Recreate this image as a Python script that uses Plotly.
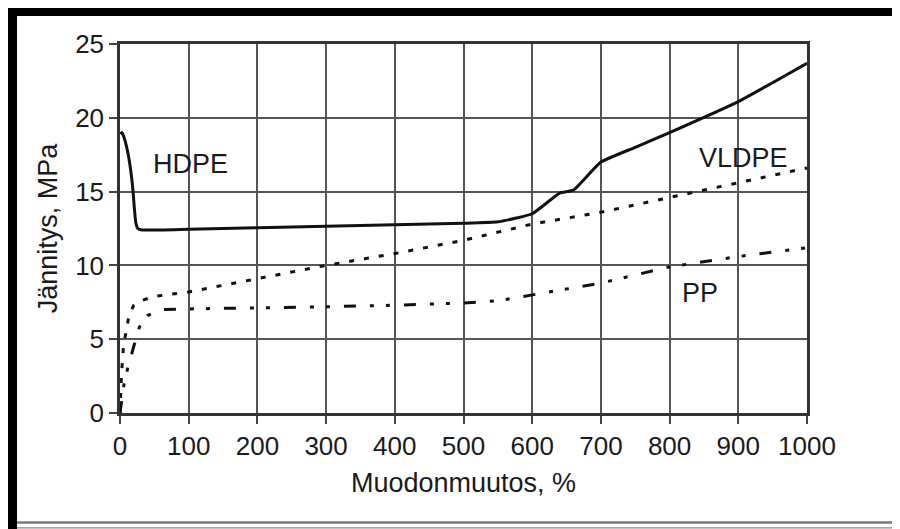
import plotly.graph_objects as go

# HDPE (solid)
hdpe_x = [0.5, 3, 7, 12, 16, 19, 21, 23, 26, 32, 100, 200, 300, 400, 500, 550, 600, 640, 660, 700, 750, 800, 900, 1000]
hdpe_y = [18.9, 19.0, 18.5, 17.5, 16.3, 15.0, 13.8, 12.9, 12.5, 12.4, 12.45, 12.55, 12.65, 12.75, 12.85, 12.95, 13.5, 14.9, 15.1, 17.0, 18.0, 19.0, 21.1, 23.7]

# VLDPE (dotted)
vldpe_x = [0, 2, 5, 9, 13, 20, 30, 50, 100, 200, 300, 400, 500, 600, 700, 800, 900, 1000]
vldpe_y = [0.0, 2.5, 4.5, 5.6, 6.6, 7.3, 7.6, 7.9, 8.2, 9.1, 10.0, 10.8, 11.7, 12.8, 13.6, 14.6, 15.6, 16.6]

# PP (dash-dot)
pp_x = [0, 3, 6, 12, 20, 28, 40, 60, 100, 200, 300, 400, 500, 550, 600, 700, 800, 900, 1000]
pp_y = [0.0, 1.0, 2.0, 3.2, 4.5, 5.8, 6.6, 7.0, 7.05, 7.1, 7.2, 7.3, 7.45, 7.6, 8.0, 8.8, 9.9, 10.6, 11.2]

x_ticks = [0, 100, 200, 300, 400, 500, 600, 700, 800, 900, 1000]
y_ticks = [0, 5, 10, 15, 20, 25]

labels = ["HDPE", "VLDPE", "PP"]
label_x = [102, 907, 844]
label_y = [16.9, 17.3, 8.1]

FONT = "Liberation Sans, Arial, sans-serif"
TXT = "#1a1a1a"

# page offset of the figure inside the browser (body margin)
OFF = 8
FW, FH = 900, 529 - OFF

# plot area in screen pixels
L, R, T, B = 120, 807, 44, 413
W, H = R - L, B - T


def px(v):
    return (v - L) / W


def py(v):
    return (B - v) / H


fig = go.Figure()
fig.add_trace(go.Scatter(x=hdpe_x, y=hdpe_y, mode="lines", name="HDPE",
                         line=dict(color="#111111", width=3, shape="spline", smoothing=0.4)))
fig.add_trace(go.Scatter(x=vldpe_x, y=vldpe_y, mode="lines", name="VLDPE",
                         line=dict(color="#111111", width=3, dash="5px,10px")))
fig.add_trace(go.Scatter(x=pp_x, y=pp_y, mode="lines", name="PP",
                         line=dict(color="#111111", width=3, dash="12px,14px,4px,12px,4px,14px")))

for t, xx, yy in zip(labels, label_x, label_y):
    fig.add_annotation(x=xx, y=yy, text=t, showarrow=False,
                       font=dict(family=FONT, size=27, color=TXT))

# decorative frame
fig.add_shape(type="line", xref="paper", yref="paper", x0=px(8), x1=px(912), y0=py(12), y1=py(12),
              line=dict(color="black", width=8))
fig.add_shape(type="line", xref="paper", yref="paper", x0=px(12.5), x1=px(12.5), y0=py(8), y1=py(535),
              line=dict(color="black", width=9))
fig.add_shape(type="line", xref="paper", yref="paper", x0=px(17), x1=px(912), y0=py(522.5), y1=py(522.5),
              line=dict(color="#777777", width=2.5))
fig.add_shape(type="line", xref="paper", yref="paper", x0=px(17), x1=px(912), y0=py(527.8), y1=py(527.8),
              line=dict(color="#888888", width=1.2))

fig.update_layout(
    width=FW, height=FH,
    margin=dict(l=L - OFF, r=FW - (R - OFF), t=T - OFF, b=FH - (B - OFF)),
    paper_bgcolor="white", plot_bgcolor="white",
    showlegend=False,
    font=dict(family=FONT, size=26, color=TXT),
)
fig.update_xaxes(range=[0, 1000], tickvals=x_ticks, ticks="outside", ticklen=8, tickwidth=1.5,
                 tickcolor="#444444", showgrid=True, gridcolor="#555555", gridwidth=1.5,
                 showline=True, linecolor="#333333", linewidth=2.5, mirror=True, zeroline=False,
                 tickfont=dict(family=FONT, size=26, color=TXT),
                 title=dict(text="Muodonmuutos, %", font=dict(family=FONT, size=27, color=TXT), standoff=14))
fig.update_yaxes(range=[0, 25], tickvals=y_ticks, ticks="outside", ticklen=8, tickwidth=1.5,
                 tickcolor="#444444", showgrid=True, gridcolor="#555555", gridwidth=1.5,
                 showline=True, linecolor="#333333", linewidth=2.5, mirror=True, zeroline=False,
                 tickfont=dict(family=FONT, size=26, color=TXT),
                 title=dict(text="Jännitys, MPa", font=dict(family=FONT, size=27, color=TXT), standoff=10))

fig.write_html("out.html")
